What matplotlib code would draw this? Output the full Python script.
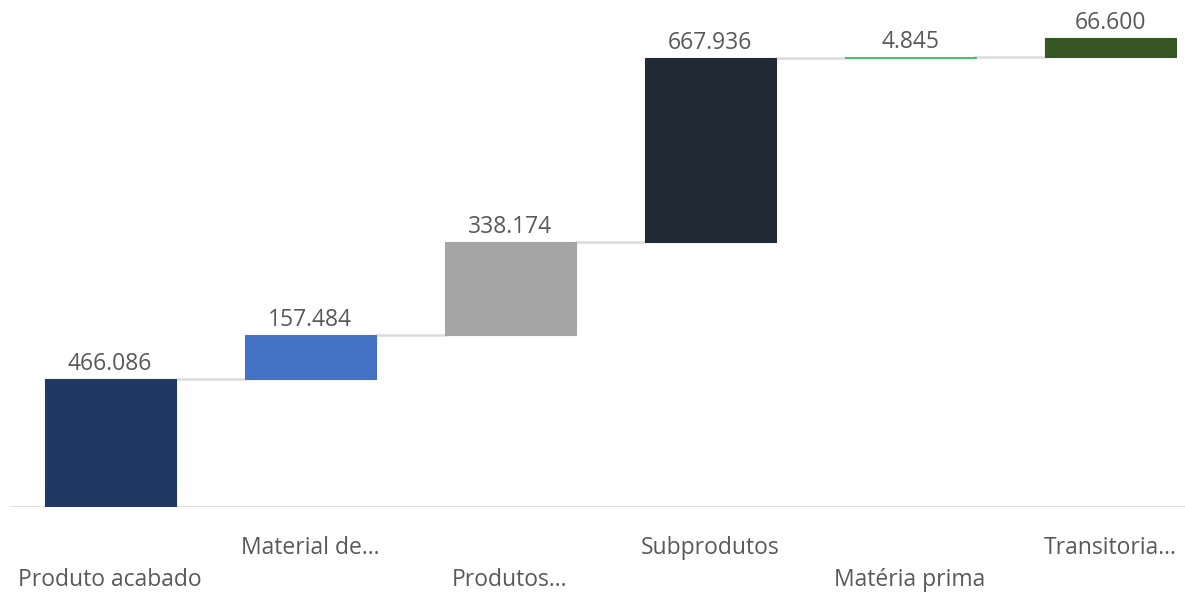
import numpy as np
import matplotlib.pyplot as plt

# waterfall data
categories = ['Produto acabado', 'Material de...', 'Produtos...', 'Subprodutos',
              'Matéria prima', 'Transitoria...']
values = [466.086, 157.484, 338.174, 667.936, 4.845, 66.600]
value_labels = ['466.086', '157.484', '338.174', '667.936', '4.845', '66.600']
colors = ['#203864', '#4472C4', '#A5A5A5', '#222A35', '#4DBD74', '#375623']

plt.rcParams['font.family'] = ['Open Sans', 'DejaVu Sans']

tops = np.cumsum(values)
bottoms = tops - np.array(values)
x = np.arange(len(values))
width = 0.655

fig = plt.figure(figsize=(11.85, 5.92), dpi=100)
ax = fig.add_axes([0, 0.1436, 1, 0.8564])

ax.bar(x, values, bottom=bottoms, width=width, color=colors,
       edgecolor=colors, linewidth=0.8, zorder=3)

# connectors between bars
for i in range(len(values) - 1):
    ax.plot([x[i] + width / 2, x[i + 1] - width / 2], [tops[i], tops[i]],
            color='#DCDCDC', lw=1.8, zorder=2)

# value labels
for i, v in enumerate(value_labels):
    ax.annotate(v, (x[i], tops[i]), xytext=(0, 2), textcoords='offset points',
                ha='center', va='bottom', fontsize=16.5, color='#595959')

# category labels, staggered in two rows
for i, c in enumerate(categories):
    yy = -0.081 if i % 2 else -0.144
    ax.text(x[i], yy, c, transform=ax.get_xaxis_transform(), ha='center',
            va='center', fontsize=16.5, color='#595959')

ax.axhline(0, xmin=10 / 1185, xmax=1, color='#D9D9D9', lw=1.8, zorder=1)

ax.set_xlim(-0.55, 5.375)
ax.set_ylim(0, 1840)
ax.axis('off')

fig.savefig('out.png', dpi=100)
